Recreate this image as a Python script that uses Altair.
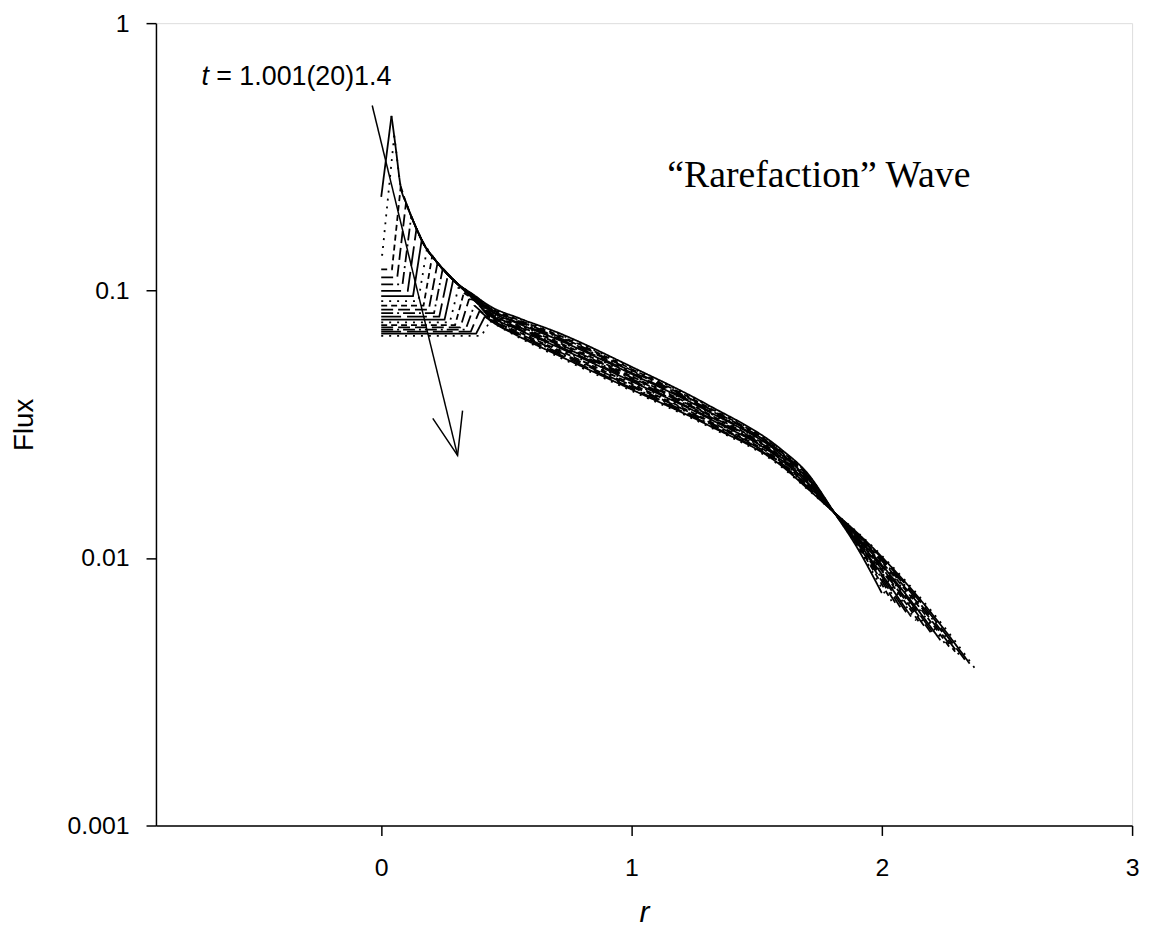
import altair as alt
import pandas as pd

# ---------------- data ----------------
N_CURVES = 20  # t = 1.001 (20 curves) 1.4

# flat level near r = 0, kink position, point where the rising edge meets the curve
F0 = [0.224, 0.136, 0.1200, 0.1120, 0.1055, 0.0998, 0.0953, 0.0913, 0.0878, 0.0849,
      0.0824, 0.0799, 0.0779, 0.0760, 0.0743, 0.0728, 0.0715, 0.0703, 0.0690, 0.0677]
R_KINK = [0.0, 0.004, 0.043, 0.064, 0.085, 0.106, 0.127, 0.148, 0.169, 0.190,
          0.211, 0.232, 0.253, 0.274, 0.295, 0.316, 0.337, 0.358, 0.379, 0.400]
R_JOIN = [0.041, 0.052, 0.078, 0.099, 0.120, 0.141, 0.162, 0.183, 0.204, 0.225,
          0.246, 0.267, 0.288, 0.309, 0.330, 0.351, 0.372, 0.393, 0.414, 0.435]
F_JOIN = [0.45, 0.38, 0.245, 0.213, 0.190, 0.171, 0.155, 0.144, 0.135, 0.127,
          0.121, 0.115, 0.110, 0.103, 0.098, 0.093, 0.088, 0.084, 0.080, 0.0769]

# common upper envelope (all early curves run together here)
ENV_R = [0.041, 0.05, 0.06, 0.077, 0.10, 0.13, 0.169, 0.222, 0.30]
ENV_F = [0.45, 0.39, 0.33, 0.247, 0.212, 0.180, 0.150, 0.128, 0.107]

# fan of curves, one value per curve at each r
F_0368 = [0.0966, 0.0963, 0.0960, 0.0957, 0.0954, 0.0951, 0.0949, 0.0946, 0.0943, 0.0940,
          0.0937, 0.0934, 0.0931, 0.0929, 0.0926, 0.0923, None, None, None, None]
F_0434 = [0.0875, 0.0869, 0.0864, 0.0858, 0.0853, 0.0847, 0.0842, 0.0836, 0.0830, 0.0825,
          0.0819, 0.0814, 0.0808, 0.0802, 0.0797, 0.0791, 0.0786, 0.0780, 0.0775, None]
F_055 = [0.0789, 0.0783, 0.0776, 0.0770, 0.0764, 0.0757, 0.0751, 0.0744, 0.0738, 0.0732,
         0.0725, 0.0719, 0.0713, 0.0706, 0.0700, 0.0693, 0.0687, 0.0681, 0.0674, 0.0668]
F_070 = [0.0700, 0.0693, 0.0686, 0.0679, 0.0673, 0.0666, 0.0659, 0.0652, 0.0645, 0.0638,
         0.0632, 0.0625, 0.0618, 0.0611, 0.0604, 0.0597, 0.0591, 0.0584, 0.0577, 0.0570]
F_100 = [0.0519, 0.0514, 0.0509, 0.0504, 0.0499, 0.0493, 0.0488, 0.0483, 0.0478, 0.0473,
         0.0468, 0.0463, 0.0458, 0.0453, 0.0448, 0.0442, 0.0437, 0.0432, 0.0427, 0.0422]
F_130 = [0.0376, 0.0373, 0.0369, 0.0366, 0.0363, 0.0359, 0.0356, 0.0353, 0.0349, 0.0346,
         0.0343, 0.0339, 0.0336, 0.0333, 0.0329, 0.0326, 0.0323, 0.0319, 0.0316, 0.0313]
F_160 = [0.0254, 0.0252, 0.0250, 0.0248, 0.0247, 0.0245, 0.0243, 0.0241, 0.0239, 0.0237,
         0.0236, 0.0234, 0.0232, 0.0230, 0.0228, 0.0226, 0.0225, 0.0223, 0.0221, 0.0219]
F_170 = [0.0209, 0.0208, 0.0206, 0.0205, 0.0203, 0.0202, 0.0200, 0.0199, 0.0198, 0.0196,
         0.0195, 0.0193, 0.0192, 0.0190, 0.0189, 0.0188, 0.0186, 0.0185, 0.0183, 0.0182]
F_181 = [0.0148] * 20
BAND_R = [0.55, 0.70, 1.00, 1.30, 1.60, 1.70, 1.81]
BAND_F = [F_055, F_070, F_100, F_130, F_160, F_170, F_181]

# tail beyond the crossing point
F_190 = [0.0110, 0.01113, 0.01125, 0.01135, 0.01145, 0.01153, 0.01161, 0.01169, 0.01176, 0.01183,
         0.01191, 0.01198, 0.01205, 0.01212, 0.01219, 0.01226, 0.01233, 0.01240, 0.01247, 0.01254]
F_200 = [None, None, 0.00798, 0.00820, 0.00839, 0.00855, 0.00870, 0.00883, 0.00896, 0.00908,
         0.00920, 0.00931, 0.00943, 0.00954, 0.00965, 0.00976, 0.00987, 0.00999, 0.01010, 0.01021]
F_210 = [None, None, None, None, None, None, None, 0.00654, 0.00670, 0.00684,
         0.00698, 0.00711, 0.00724, 0.00736, 0.00749, 0.00762, 0.00774, 0.00787, 0.00800, 0.00812]
F_220 = [None] * 12 + [0.00545, 0.00558, 0.00570, 0.00582, 0.00594, 0.00606, 0.00619, 0.00631]
F_230 = [None] * 17 + [0.00457, 0.00468, 0.00479]
TAIL_R = [1.9, 2.0, 2.1, 2.2, 2.3]
TAIL_F = [F_190, F_200, F_210, F_220, F_230]
END_R = [2.000, 2.020, 2.039, 2.059, 2.078, 2.098, 2.117, 2.137, 2.156, 2.176,
         2.195, 2.215, 2.234, 2.254, 2.273, 2.293, 2.312, 2.332, 2.351, 2.370]
END_F = [0.00740, 0.00715, 0.00691, 0.00668, 0.00646, 0.00625, 0.00604, 0.00584, 0.00564, 0.00546,
         0.00528, 0.00510, 0.00493, 0.00477, 0.00461, 0.00446, 0.00431, 0.00417, 0.00403, 0.00389]

STYLE_NAMES = ["solid", "dotted", "shortdash", "dash", "dashdot", "longdash"]
STYLE_DASHES = [[1, 0], [2, 6], [6, 4], [12, 5], [12, 4, 2, 4], [20, 6]]

# arrow and annotations
SHAFT_R = [-0.036, 0.305]
SHAFT_F = [0.492, 0.0242]
HEAD_R = [0.206, 0.305, 0.325]
HEAD_F = [0.0333, 0.0242, 0.0356]
T_LABEL = ["t"]
T_LABEL_R = [-0.718]
RANGE_LABEL = ["= 1.001(20)1.4"]
RANGE_LABEL_R = [-0.659]
T_LABEL_F = [0.589]
WAVE_LABEL = ["\u201cRarefaction\u201d Wave"]
WAVE_LABEL_R = [1.143]
WAVE_LABEL_F = [0.244]

X_TICKS = [0, 1, 2, 3]
Y_TICKS = [0.001, 0.01, 0.1, 1]

# ---------------- build long tables ----------------
head_rows, body_rows = [], []
for i in range(N_CURVES):
    style = STYLE_NAMES[i % len(STYLE_NAMES)]
    # sharp-cornered front part: flat level, kink, steep rise
    head = [(0.0, F0[i])]
    if R_KINK[i] > 0:
        head.append((R_KINK[i], F0[i]))
    head.append((R_JOIN[i], F_JOIN[i]))
    # smooth main part
    body = [(R_JOIN[i], F_JOIN[i])]
    for r, f in zip(ENV_R, ENV_F):
        if r > R_JOIN[i] + 0.005:
            body.append((r, f))
    if F_0368[i] is not None and 0.368 > R_JOIN[i] + 0.005:
        body.append((0.368, F_0368[i]))
    if F_0434[i] is not None and 0.434 > R_JOIN[i] + 0.005:
        body.append((0.434, F_0434[i]))
    for r, col in zip(BAND_R, BAND_F):
        body.append((r, col[i]))
    for r, col in zip(TAIL_R, TAIL_F):
        if col[i] is not None:
            body.append((r, col[i]))
    body.append((END_R[i], END_F[i]))
    for k, (r, f) in enumerate(head):
        head_rows.append({"r": r, "flux": f, "curve": i, "idx": k, "style": style})
    for k, (r, f) in enumerate(body):
        body_rows.append({"r": r, "flux": f, "curve": i, "idx": k, "style": style})
head_df = pd.DataFrame(head_rows)
body_df = pd.DataFrame(body_rows)

FONT = "Liberation Sans"
xscale = alt.Scale(domain=[-0.9, 3], nice=False, zero=False)
yscale = alt.Scale(type="log", domain=[0.001, 1], nice=False)
xaxis = alt.Axis(values=X_TICKS, format="~g", grid=False, title="r",
                 labelFont=FONT, labelFontSize=25, labelColor="black", labelPadding=20,
                 labelFlush=False, tickSize=10, tickColor="black", tickWidth=1.5,
                 domainColor="black", domainWidth=1.5,
                 titleFont=FONT, titleFontSize=30, titleFontStyle="italic",
                 titleFontWeight="normal", titleColor="black",
                 titleX=491.5, titleY=97, titleAlign="center", titleBaseline="alphabetic")
yaxis = alt.Axis(values=Y_TICKS, format="~g", grid=False, title="Flux",
                 labelFont=FONT, labelFontSize=25, labelColor="black", labelPadding=17,
                 labelFlush=False, tickSize=10, tickColor="black", tickWidth=1.5,
                 domainColor="black", domainWidth=1.5,
                 titleFont=FONT, titleFontSize=28, titleFontWeight="normal",
                 titleColor="black", titleX=-132, titleY=404, titleAngle=270,
                 titleAlign="center", titleBaseline="middle")
X = alt.X("r:Q", scale=xscale, axis=xaxis)
Y = alt.Y("flux:Q", scale=yscale, axis=yaxis)
DASH = alt.StrokeDash("style:N", scale=alt.Scale(domain=STYLE_NAMES, range=STYLE_DASHES),
                      legend=None)

heads = alt.Chart(head_df).mark_line(color="black", strokeWidth=1.8).encode(
    x=X, y=Y, detail="curve:N", order="idx:Q", strokeDash=DASH)
bodies = alt.Chart(body_df).mark_line(color="black", strokeWidth=1.8,
                                      interpolate="monotone").encode(
    x=X, y=Y, detail="curve:N", order="idx:Q", strokeDash=DASH)

shaft = alt.Chart(pd.DataFrame({"r": SHAFT_R, "flux": SHAFT_F, "idx": [0, 1]})).mark_line(
    color="black", strokeWidth=1.5).encode(x=X, y=Y, order="idx:Q")
head = alt.Chart(pd.DataFrame({"r": HEAD_R, "flux": HEAD_F, "idx": [0, 1, 2]})).mark_line(
    color="black", strokeWidth=1.5).encode(x=X, y=Y, order="idx:Q")

t_text = alt.Chart(pd.DataFrame({"r": T_LABEL_R, "flux": T_LABEL_F, "label": T_LABEL})).mark_text(
    align="left", baseline="alphabetic", font=FONT, fontSize=27, fontStyle="italic", color="black"
).encode(x=X, y=Y, text="label:N")
range_text = alt.Chart(pd.DataFrame({"r": RANGE_LABEL_R, "flux": T_LABEL_F, "label": RANGE_LABEL})).mark_text(
    align="left", baseline="alphabetic", font=FONT, fontSize=27, color="black"
).encode(x=X, y=Y, text="label:N")
wave_text = alt.Chart(pd.DataFrame({"r": WAVE_LABEL_R, "flux": WAVE_LABEL_F, "label": WAVE_LABEL})).mark_text(
    align="left", baseline="alphabetic", font="Liberation Serif", fontSize=38, color="black"
).encode(x=X, y=Y, text="label:N")

chart = alt.layer(heads, bodies, shaft, head, t_text, range_text, wave_text).properties(
    width=983, height=808,
    autosize=alt.AutoSizeParams(type="none"),
    padding={"left": 149, "top": 12, "right": 14, "bottom": 105},
).configure_view(stroke="black", strokeWidth=1.5).configure(background="white")

chart.save("out.html", embed_options={"renderer": "svg", "actions": False})
